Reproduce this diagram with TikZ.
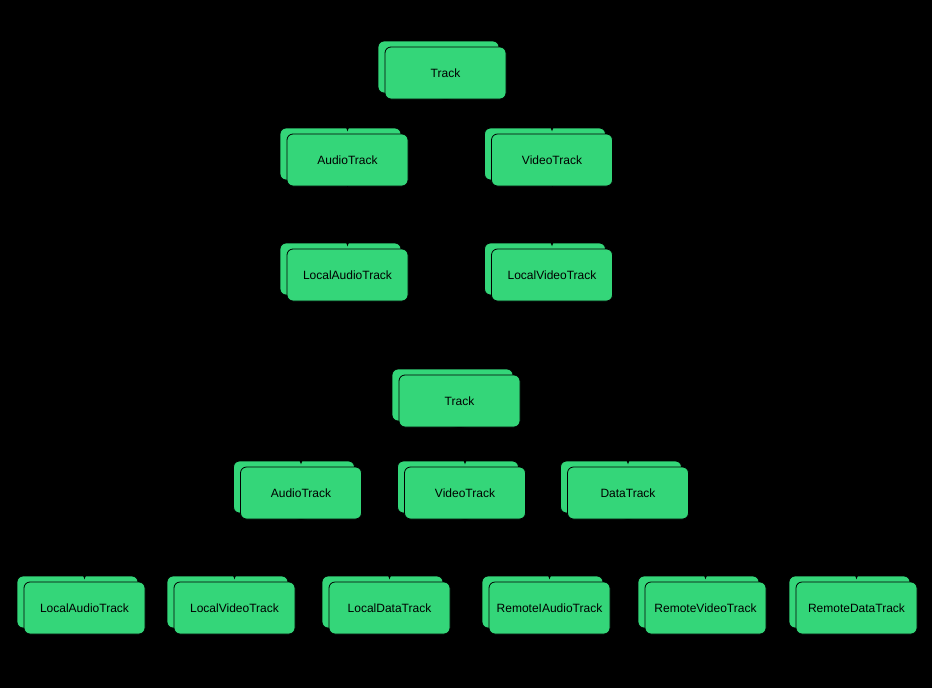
\documentclass[tikz,border=0pt]{standalone}
\usepackage{fontspec}
\setmainfont{Liberation Sans}
\usetikzlibrary{shadows,arrows.meta}
\begin{document}
\begin{tikzpicture}[x=1pt,y=-1pt,
  box/.style={draw=black,fill={rgb,255:red,52;green,214;blue,121},rounded corners=6pt,
    minimum width=121pt,minimum height=52pt,font=\fontsize{12}{14}\selectfont,line width=0.8pt,
    copy shadow={shadow xshift=-7pt,shadow yshift=6pt}},
  conn/.style={draw=black,-{Latex[length=5pt,width=4pt]},line width=0.8pt}]
\fill[black] (0,0) rectangle (932,688);
\useasboundingbox (0,0) rectangle (932,688);
\node[box] (t1) at (445.5,73) {Track};
\node[box] (a1) at (347.5,160) {AudioTrack};
\node[box] (v1) at (552,160) {VideoTrack};
\node[box] (la1) at (347.5,275) {LocalAudioTrack};
\node[box] (lv1) at (552,275) {LocalVideoTrack};
\node[box] (t2) at (459.5,401) {Track};
\node[box] (a2) at (301,493) {AudioTrack};
\node[box] (v2) at (465,493) {VideoTrack};
\node[box] (d2) at (628,493) {DataTrack};
\node[box] (la2) at (84.5,608) {LocalAudioTrack};
\node[box] (lv2) at (234.5,608) {LocalVideoTrack};
\node[box] (ld2) at (389.5,608) {LocalDataTrack};
\node[box] (ra2) at (549.5,608) {RemoteIAudioTrack};
\node[box] (rv2) at (705.5,608) {RemoteVideoTrack};
\node[box] (rd2) at (856.5,608) {RemoteDataTrack};
\foreach \p/\c in {t1/a1,t1/v1,a1/la1,v1/lv1,t2/a2,t2/v2,t2/d2,a2/la2,a2/ra2,v2/lv2,v2/rv2,d2/ld2,d2/rd2}
  \draw[conn] (\p.south) -- ([yshift=20pt]\c.north) -- ([yshift=2pt]\c.north);
\end{tikzpicture}
\end{document}
